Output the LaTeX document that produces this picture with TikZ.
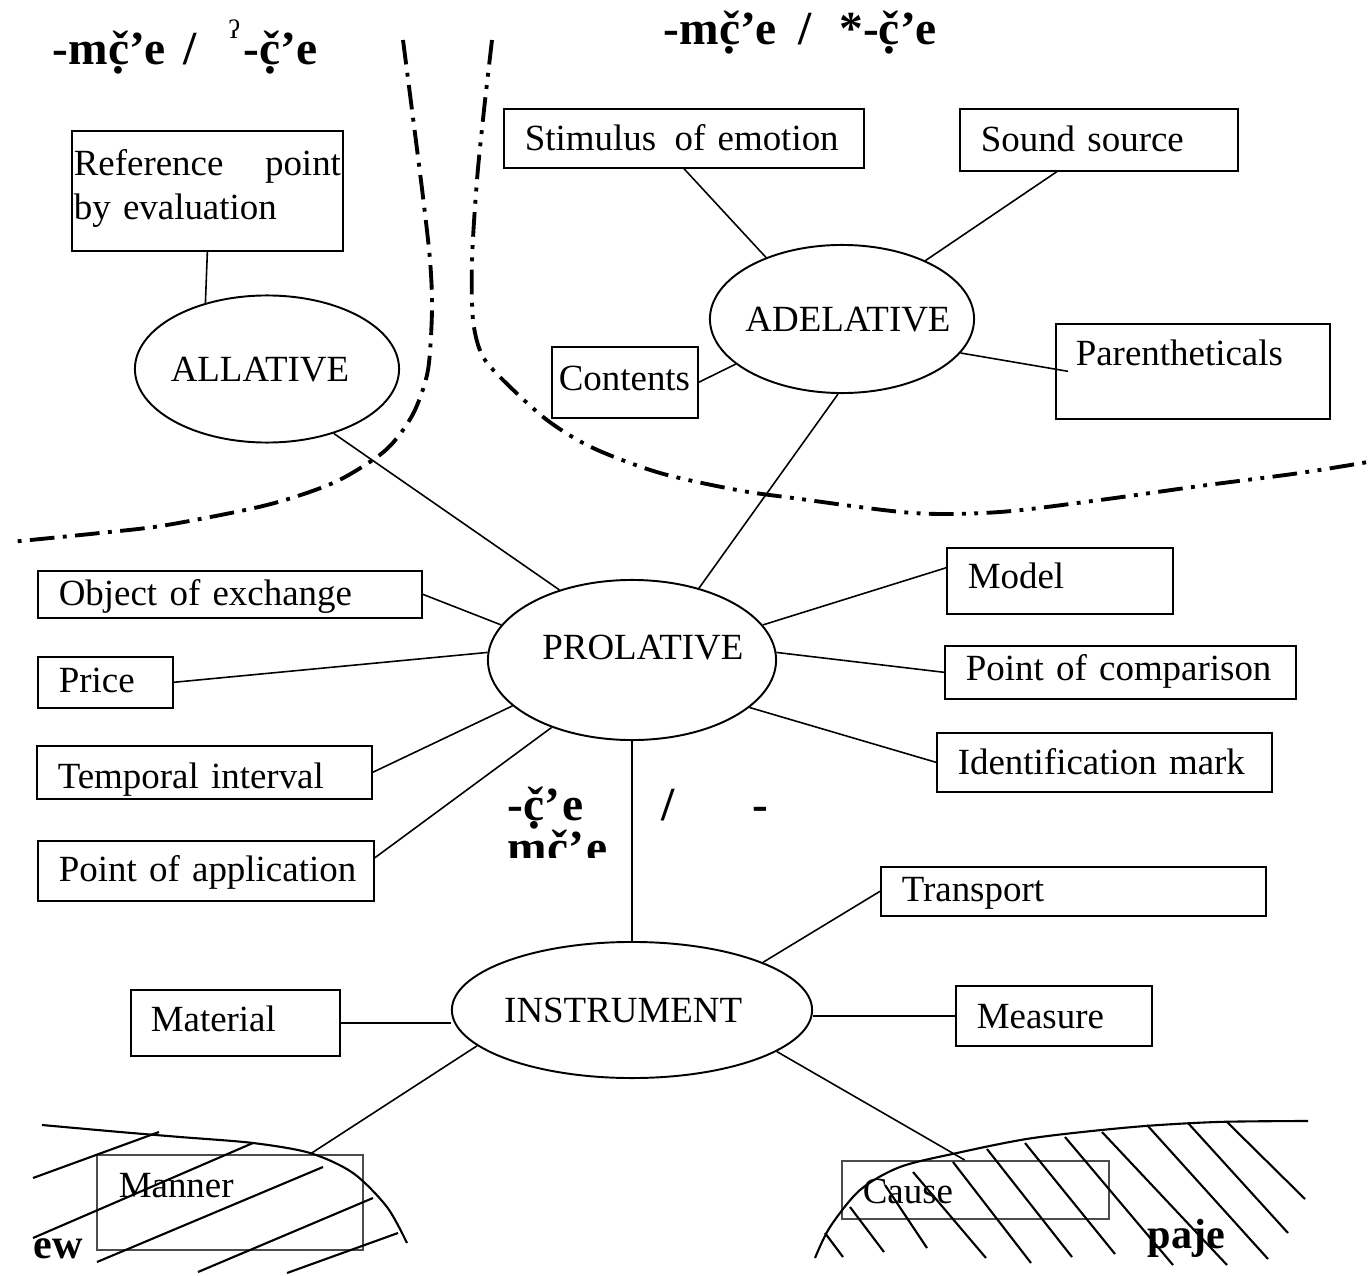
\documentclass[tikz,border=0pt]{standalone}
\usepackage{fontspec}
\setmainfont{Liberation Serif}
\usetikzlibrary{calc, positioning, shapes.geometric}
\newcommand\chdot{\ooalign{č\cr\hidewidth\raisebox{-2.5pt}{.}\hidewidth\cr}}

\begin{document}
\begin{tikzpicture}[
  x=0.01cm, y=-0.01cm,
  rolebox/.style={draw, line width=0.45pt, anchor=north west, inner xsep=0.21cm, inner ysep=0pt,
    align=left, font=\fontsize{10.5}{12.4}\selectfont},
  caseoval/.style={draw, ellipse, line width=0.55pt, inner sep=0pt, text height=7pt, text depth=0pt,
    font=\fontsize{10.5}{12.4}\selectfont},
  link/.style={line width=0.45pt},
  marker/.style={anchor=base west, inner sep=0pt, font=\fontsize{13.5}{12}\selectfont\bfseries},
  zoneA/.style={line width=1.1pt, dash pattern=on 7pt off 2.4pt on 1.1pt off 2.4pt},
  zoneB/.style={line width=1.1pt, dash pattern=on 7pt off 2.4pt on 1.1pt off 2.4pt on 1.1pt off 2.4pt},
  hatch/.style={line width=0.6pt}
]
  \useasboundingbox (0,0) rectangle (1372,1276);

  \node[caseoval, minimum width=2.64cm, minimum height=1.47cm] (allat) at (267,369)
    {\makebox[0pt]{ALLATIVE\hspace{4pt}}};
  \node[caseoval, minimum width=2.64cm, minimum height=1.48cm] (adel) at (842,319)
    {\makebox[0pt]{\hspace{3.4pt}ADELATIVE}};
  \node[caseoval, minimum width=2.88cm, minimum height=1.60cm, text depth=7.4pt] (prol) at (632,660)
    {\makebox[0pt]{\hspace{6.2pt}PROLATIVE}};
  \node[caseoval, minimum width=3.60cm, minimum height=1.36cm] (instr) at (632,1010)
    {\makebox[0pt]{INSTRUMENT\hspace{5pt}}};

  \node[rolebox, inner xsep=0.02cm, text width=2.67cm, text height=0.45cm, text depth=0.75cm] (ref) at (71,130)
    {Reference \hfill point\\by evaluation};
  \node[rolebox, text width=3.18cm, text height=0.42cm, text depth=0.17cm] (stim) at (503,108) {\mbox{Stimulus\ \,of\ emotion}};
  \node[rolebox, text width=2.36cm, text height=0.43cm, text depth=0.19cm] (sound) at (959,108) {\mbox{Sound source}};
  \node[rolebox, inner xsep=0.07cm, text width=1.32cm, text height=0.44cm, text depth=0.27cm] (contents) at (551,346) {\mbox{Contents}};
  \node[rolebox, inner xsep=0.20cm, text width=2.34cm, text height=0.42cm, text depth=0.53cm] (paren) at (1055,323) {\mbox{Parentheticals}};

  \node[rolebox, text width=3.42cm, text height=0.35cm, text depth=0.12cm] (objex) at (37,570) {\mbox{Object of exchange}};
  \node[rolebox, text width=0.93cm, text height=0.36cm, text depth=0.15cm] (price) at (37,656) {\mbox{Price}};
  \node[rolebox, text width=2.93cm, text height=0.43cm, text depth=0.10cm] (tempo) at (36,745) {\mbox{Temporal interval}};
  \node[rolebox, text width=2.94cm, text height=0.41cm, text depth=0.19cm] (pointapp) at (37,840) {\mbox{Point of application}};
  \node[rolebox, text width=1.84cm, text height=0.41cm, text depth=0.25cm] (model) at (946,547) {\mbox{Model}};
  \node[rolebox, text width=3.09cm, text height=0.35cm, text depth=0.18cm] (pcomp) at (944,645) {\mbox{Point of comparison}};
  \node[rolebox, text width=2.93cm, text height=0.42cm, text depth=0.17cm] (ident) at (936,732) {\mbox{Identification mark}};

  \node[rolebox, text width=3.43cm, text height=0.35cm, text depth=0.14cm] (transport) at (880,866) {\mbox{Transport}};
  \node[rolebox, inner xsep=0.20cm, text width=1.69cm, text height=0.42cm, text depth=0.24cm] (material) at (130,989) {\mbox{Material}};
  \node[rolebox, text width=1.54cm, text height=0.43cm, text depth=0.17cm] (measure) at (955,985) {\mbox{Measure}};
  \node[rolebox, draw=black!70, inner xsep=0.22cm, text width=2.22cm, text height=0.43cm, text depth=0.52cm] (manner) at (96,1154) {\mbox{Manner}};
  \node[rolebox, draw=black!70, text width=2.25cm, text height=0.43cm, text depth=0.15cm] (cause) at (841,1160) {\mbox{Cause}};

  \draw[link] (ref.south) -- (allat.133);
  \draw[link] (allat.-44) -- (prol.136);
  \draw[link] (adel.-93) -- (prol.47);
  \draw[link] (stim.south) -- (adel.141);
  \draw[link] ($(sound.south west)!0.35!(sound.south east)$) -- (adel.35);
  \draw[link] (contents.east) -- (adel.203);
  \draw[link] ($(paren.west)+(13,0)$) -- (adel.-16);
  \draw[link] (objex.east) -- (prol.165);
  \draw[link] (price.east) -- (prol.177);
  \draw[link] (tempo.east) -- (prol.201);
  \draw[link] ($(pointapp.east)+(0,-13)$) -- (prol.220);
  \draw[link] ($(model.west)+(0,-13)$) -- (prol.15);
  \draw[link] (pcomp.west) -- (prol.3);
  \draw[link] (ident.west) -- (prol.-22);
  \draw[link] (prol.south) -- (instr.north);
  \draw[link] (transport.west) -- (instr.20);
  \draw[link] (material.east) -- (material.east -| instr.west);
  \draw[link] (measure.west) -- (measure.west -| instr.east);
  \draw[link] (instr.193) -- ($(manner.north west)!0.8!(manner.north east)$);
  \draw[link] (instr.-16) -- ($(cause.north west)!0.46!(cause.north east)$);

  \draw[zoneA] plot[smooth] coordinates {(403,40) (412,110) (423,197) (430,260) (432,310) (428,370)
    (415,410) (397,438) (377,457) (333,483) (267,505) (167,525) (100,533) (10,542)};
  \draw[zoneB] plot[smooth] coordinates {(492,40) (484,110) (477,180) (472,260) (473,320) (482,355)
    (503,380) (547,420) (593,448) (660,473) (737,490) (793,498) (913,513) (1000,512) (1100,500)
    (1200,486) (1300,473) (1368,462)};

  \draw[hatch] plot[smooth] coordinates {(42,1125) (120,1132) (180,1137) (253,1143) (310,1153)
    (353,1173) (387,1207) (407,1243)};
  \foreach \xa/\ya/\xb/\yb in {33/1178/159/1132, 33/1238/253/1143, 97/1262/323/1167,
      198/1272/373/1198, 287/1273/398/1233}
    \draw[hatch] (\xa,\ya) -- (\xb,\yb);

  \draw[hatch] plot[smooth] coordinates {(815,1258) (830,1227) (860,1190) (900,1167) (957,1153)
    (1033,1138) (1133,1127) (1217,1122) (1308,1121)};
  \foreach \xa/\ya/\xb/\yb in {825/1233/843/1257, 850/1207/884/1252, 885/1185/927/1248,
      913/1172/986/1258, 953/1162/1031/1263, 987/1149/1072/1257, 1025/1143/1115/1254,
      1065/1137/1173/1265, 1102/1132/1227/1265, 1147/1125/1268/1259, 1188/1123/1288/1233,
      1227/1122/1305/1199}
    \draw[hatch] (\xa,\ya) -- (\xb,\yb);

  \node[marker] (tagleft) at (52,65)
    {-m\chdot’e\hspace{5pt}/\hspace{9pt}\raisebox{7.5pt}{\fontsize{7.5}{8}\selectfont\mdseries ʔ}\hspace{1pt}-\chdot’e};
  \node[marker] (tagright) at (663,45) {-m\chdot’e\hspace{6pt}/\hspace{8pt}*-\chdot’e};
  \begin{scope}
    \clip (0,0) rectangle (1372,857);
    \node[marker, text width=2.6cm, align=left, font=\fontsize{13.5}{12.4}\selectfont\bfseries\addfontfeatures{LetterSpace=4}] (tagmid) at (507,820)
      {-\chdot’e \hfill / \hfill -\\m\chdot’e};
  \end{scope}
  \node[marker, font=\fontsize{12}{12}\selectfont\bfseries] (ewtag) at (33,1258) {ew};
  \node[marker, font=\fontsize{12}{12}\selectfont\bfseries] (pajetag) at (1147,1248) {paje};
\end{tikzpicture}
\end{document}
